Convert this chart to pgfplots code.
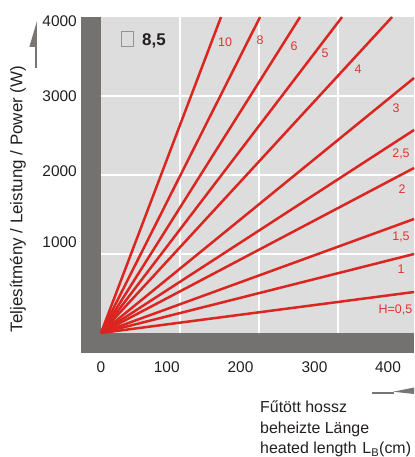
\documentclass[border=0pt]{standalone}
\usepackage{fontspec}
\setmainfont{Liberation Sans}
\usepackage{pgfplots}
\pgfplotsset{compat=1.18}
\definecolor{panel}{RGB}{221,221,221}
\definecolor{framegrey}{RGB}{116,114,112}
\definecolor{lred}{RGB}{218,37,32}
\definecolor{tred}{RGB}{222,52,48}
\definecolor{txt}{RGB}{35,31,32}
\definecolor{arr}{RGB}{120,118,116}
\begin{document}
\begin{tikzpicture}
\begin{axis}[
  x=0.79bp, y=0.079bp,
  xmin=0, xmax=396.2, ymin=0, ymax=4000,
  axis line style={draw=none},
  axis background/.style={fill=panel},
  clip=false,
  major tick length=0pt,
  xtick={0,83.2,176.6,270.3,363.3},
  xticklabels={0,100,200,300,400},
  ytick={1152,2044,2994,3952},
  yticklabels={1000,2000,3000,4000},
  extra x ticks={100,200,300},
  extra y ticks={1000,2000,3000},
  extra x tick labels={}, extra y tick labels={},
  extra tick style={grid=major, major grid style={white, line width=1.6bp}},
  /pgf/number format/assume math mode=true,
  xticklabel style={anchor=center, yshift=-33.7bp, font=\fontsize{15.5}{18}\selectfont, text=txt},
  yticklabel style={anchor=east, inner sep=0pt, xshift=-24bp, font=\fontsize{15.5}{18}\selectfont, text=txt},
  every axis plot post/.append style={draw=lred, solid, line width=2.5bp, line cap=butt, mark=none},
]
\fill[framegrey] (axis cs:-25.3,-253) rectangle (axis cs:396.2,0);
\fill[framegrey] (axis cs:-25.3,0) rectangle (axis cs:0,4000);
% H = 10, 8, 6, 5, 4 (end at top edge)
\addplot coordinates {(0,0) (151.9,4000)};
\addplot coordinates {(0,0) (201.3,4000)};
\addplot coordinates {(0,0) (251.9,4000)};
\addplot coordinates {(0,0) (305.1,4000)};
\addplot coordinates {(0,0) (368.4,4000)};
% H = 3, 2.5, 2, 1.5, 1, 0.5 (end at right edge)
\addplot coordinates {(0,0) (396.2,3228)};
\addplot coordinates {(0,0) (396.2,2570)};
\addplot coordinates {(0,0) (396.2,2089)};
\addplot coordinates {(0,0) (396.2,1443)};
\addplot coordinates {(0,0) (396.2,1000)};
\addplot coordinates {(0,0) (396.2,519)};
\coordinate (O) at (axis cs:0,0);
\end{axis}
\begin{scope}[shift={(O)}, xshift=-101bp, yshift=333bp, x=1bp, y=-1bp]
  % y axis label and arrow
  \node[rotate=90, font=\fontsize{17}{20}\selectfont, text=txt] at (18,199) {Teljesítmény / Leistung / Power (W)};
  \fill[arr] (34.7,47) rectangle (37,68);
  \fill[arr] (37,21) -- (29.3,47) -- (37,47) -- cycle;
  % x axis label and arrow
  \fill[arr] (372,391.7) rectangle (394,394);
  \fill[arr] (393,391.7) -- (414,387.5) -- (414,394) -- cycle;
  \node[anchor=base west, inner sep=0pt, font=\fontsize{16}{19}\selectfont, text=txt] at (260,412.5) {Fűtött hossz};
  \node[anchor=base west, inner sep=0pt, font=\fontsize{16}{19}\selectfont, text=txt] at (260,433.3) {beheizte Länge};
  \node[anchor=base west, inner sep=0pt, font=\fontsize{16}{19}\selectfont, text=txt] at (260,453.5) {heated length\hspace{0.35em}L\textsubscript{B}(cm)};
  % box label
  \draw[gray!85, line width=0.7bp] (121,31) rectangle (133,46);
  \node[anchor=base west, inner sep=0pt, font=\bfseries\fontsize{17}{20}\selectfont, text=txt] at (142,46) {8,5};
  % line labels
  \begin{scope}[every node/.style={text=tred, font=\fontsize{12.5}{15}\selectfont, inner sep=0pt}]
    \node at (225,42) {10};
    \node at (260,40) {8};
    \node at (294,46) {6};
    \node at (325,53) {5};
    \node at (358,69) {4};
    \node at (396,108) {3};
    \node at (401,154) {2,5};
    \node at (402,189) {2};
    \node at (401,237) {1,5};
    \node at (401,269) {1};
    \node at (395.5,310) {H=0,5};
  \end{scope}
  \pgfresetboundingbox
  \path[use as bounding box] (0,0) rectangle (414,457);
\end{scope}
\end{tikzpicture}
\end{document}
